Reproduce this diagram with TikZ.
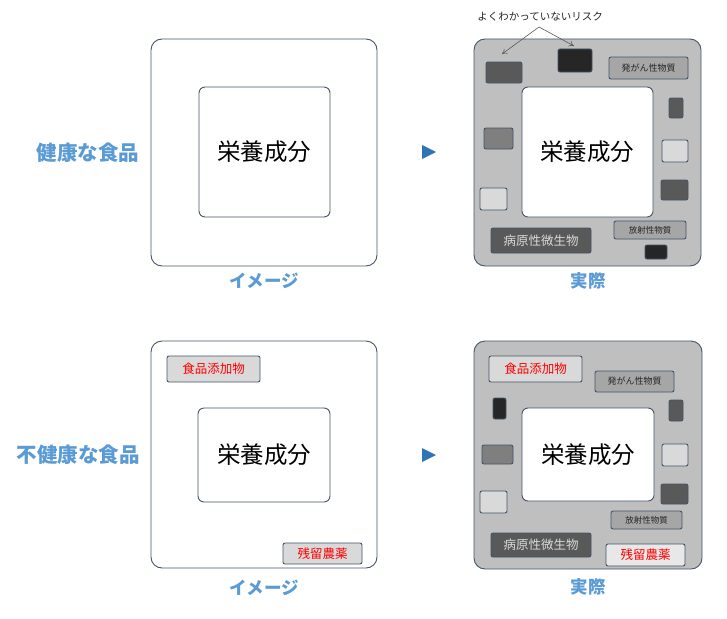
\documentclass[tikz,border=0pt]{standalone}
\usepackage{fontspec}
\setmainfont{Noto Sans CJK JP}
\usetikzlibrary{arrows.meta}
\definecolor{lblue}{HTML}{5B9BD5}
\definecolor{tblue}{HTML}{2E75B6}
\definecolor{edge}{HTML}{44546A}
\definecolor{g1}{HTML}{262626}
\definecolor{g2}{HTML}{595959}
\definecolor{g3}{HTML}{7F7F7F}
\definecolor{g4}{HTML}{A6A6A6}
\definecolor{g5}{HTML}{BFBFBF}
\definecolor{g6}{HTML}{D9D9D9}
\tikzset{
  box/.style={draw=edge, line width=0.9pt, rounded corners=2pt, inner sep=0pt},
  outerbox/.style={draw=edge, line width=0.9pt, rounded corners=11pt},
  innerbox/.style={draw=edge, line width=0.9pt, rounded corners=6pt, fill=white},
  sidelabel/.style={font=\bfseries\fontsize{20.5}{22}\selectfont, text=lblue},
  caption/.style={font=\bfseries\fontsize{17.5}{19}\selectfont, text=lblue},
  nutri/.style={font=\fontsize{23.5}{25}\selectfont, text=black},
  tri/.style={fill=tblue, draw=none},
  tiny/.style={font=\fontsize{8.5}{10}\selectfont, text=g1},
  midtxt/.style={font=\fontsize{12.5}{14}\selectfont},
}
\begin{document}
\begin{tikzpicture}[x=1pt,y=-1pt]
\useasboundingbox (0,0) rectangle (727,618);
% ---------- row 1 ----------
\node[sidelabel] (lab1) at (88,153) {健康な食品};
\draw[outerbox] (151,39) rectangle (377,266);
\draw[innerbox] (199,87) rectangle (330,217);
\node[nutri] (n1) at (264,152) {栄養成分};
\node[caption] (c1) at (264,281) {イメージ};
\filldraw[tri] (422,145) -- (436,152) -- (422,159) -- cycle;
% right panel
\draw[outerbox, fill=g5] (474,39) rectangle (701,266);
\draw[innerbox] (522,87) rectangle (653,217);
\node[nutri] (n2) at (587,152) {栄養成分};
\node[caption] (c2) at (588,281) {実際};
\node[box, fill=g2, minimum width=36pt, minimum height=21pt] (a1) at (504,72.5) {};
\node[box, fill=g1, minimum width=34pt, minimum height=23pt] (a2) at (575,60.5) {};
\node[box, fill=g4, minimum width=79pt, minimum height=22pt, tiny, font=\fontsize{9}{10}\selectfont] (a3) at (648.5,68) {発がん性物質};
\node[box, fill=g2, minimum width=14pt, minimum height=20pt] (a4) at (676,108) {};
\node[box, fill=g3, minimum width=29pt, minimum height=21pt] (a5) at (498.5,138.5) {};
\node[box, fill=g6, minimum width=26pt, minimum height=22pt] (a6) at (675,151) {};
\node[box, fill=g6, minimum width=27pt, minimum height=22pt] (a7) at (493.5,199) {};
\node[box, fill=g2, minimum width=27pt, minimum height=20pt] (a8) at (674.5,190) {};
\node[box, fill=g4, minimum width=72pt, minimum height=18pt, tiny] (a9) at (650,230) {放射性物質};
\node[box, fill=g2, minimum width=100pt, minimum height=25pt, midtxt, text=g6] (a10) at (541,240.5) {病原性微生物};
\node[box, fill=g1, minimum width=22pt, minimum height=14pt] (a11) at (656,252) {};
\node[font=\fontsize{10.5}{12}\selectfont, text=g1] (risk) at (540,17) {よくわかっていないリスク};
\coordinate (rk) at (539,27);
\coordinate (rl) at (502,54);
\coordinate (rr) at (574,46);
\draw[-{To[length=5pt,width=6pt]}, g2, line width=0.6pt] (rk) -- (rl);
\draw[-{To[length=5pt,width=6pt]}, g2, line width=0.6pt] (rk) -- (rr);
% ---------- row 2 ----------
\node[sidelabel] (lab2) at (78,455) {不健康な食品};
\draw[outerbox] (151,341) rectangle (377,568);
\draw[innerbox] (198,408) rectangle (330,502);
\node[nutri] (n3) at (264,455) {栄養成分};
\node[caption] (c3) at (264,588) {イメージ};
\node[box, fill=g6, minimum width=93pt, minimum height=26pt, midtxt, text=red] (b1) at (213.5,369) {食品添加物};
\node[box, fill=g6, minimum width=79pt, minimum height=21pt, midtxt, text=red] (b2) at (322.5,553.5) {残留農薬};
\filldraw[tri] (422,448) -- (436,455) -- (422,462) -- cycle;
% right panel
\draw[outerbox, fill=g5] (474,341) rectangle (702,569);
\draw[innerbox] (522,408) rectangle (654,501);
\node[nutri] (n4) at (588,455) {栄養成分};
\node[caption] (c4) at (588,587) {実際};
\node[box, fill=g6, minimum width=93pt, minimum height=26pt, midtxt, text=red] (d1) at (535.5,369) {食品添加物};
\node[box, fill=g4, minimum width=79pt, minimum height=21pt, tiny, font=\fontsize{9}{10}\selectfont] (d2) at (634.5,381.5) {発がん性物質};
\node[box, fill=g1, minimum width=13pt, minimum height=21pt] (d3) at (499.5,408.5) {};
\node[box, fill=g2, minimum width=14pt, minimum height=21pt] (d4) at (676,410.5) {};
\node[box, fill=g3, minimum width=31pt, minimum height=19pt] (d5) at (497.5,454.5) {};
\node[box, fill=g6, minimum width=26pt, minimum height=22pt] (d6) at (675,455) {};
\node[box, fill=g6, minimum width=27pt, minimum height=22pt] (d7) at (493.5,502) {};
\node[box, fill=g2, minimum width=27pt, minimum height=20pt] (d8) at (674.5,494) {};
\node[box, fill=g4, minimum width=71pt, minimum height=18pt, tiny] (d9) at (646.5,520) {放射性物質};
\node[box, fill=g2, minimum width=100pt, minimum height=24pt, midtxt, text=g6] (d10) at (541,545) {病原性微生物};
\node[box, fill=g6!60!white, minimum width=79pt, minimum height=22pt, midtxt, text=red] (d11) at (645.5,555) {残留農薬};
\end{tikzpicture}
\end{document}
